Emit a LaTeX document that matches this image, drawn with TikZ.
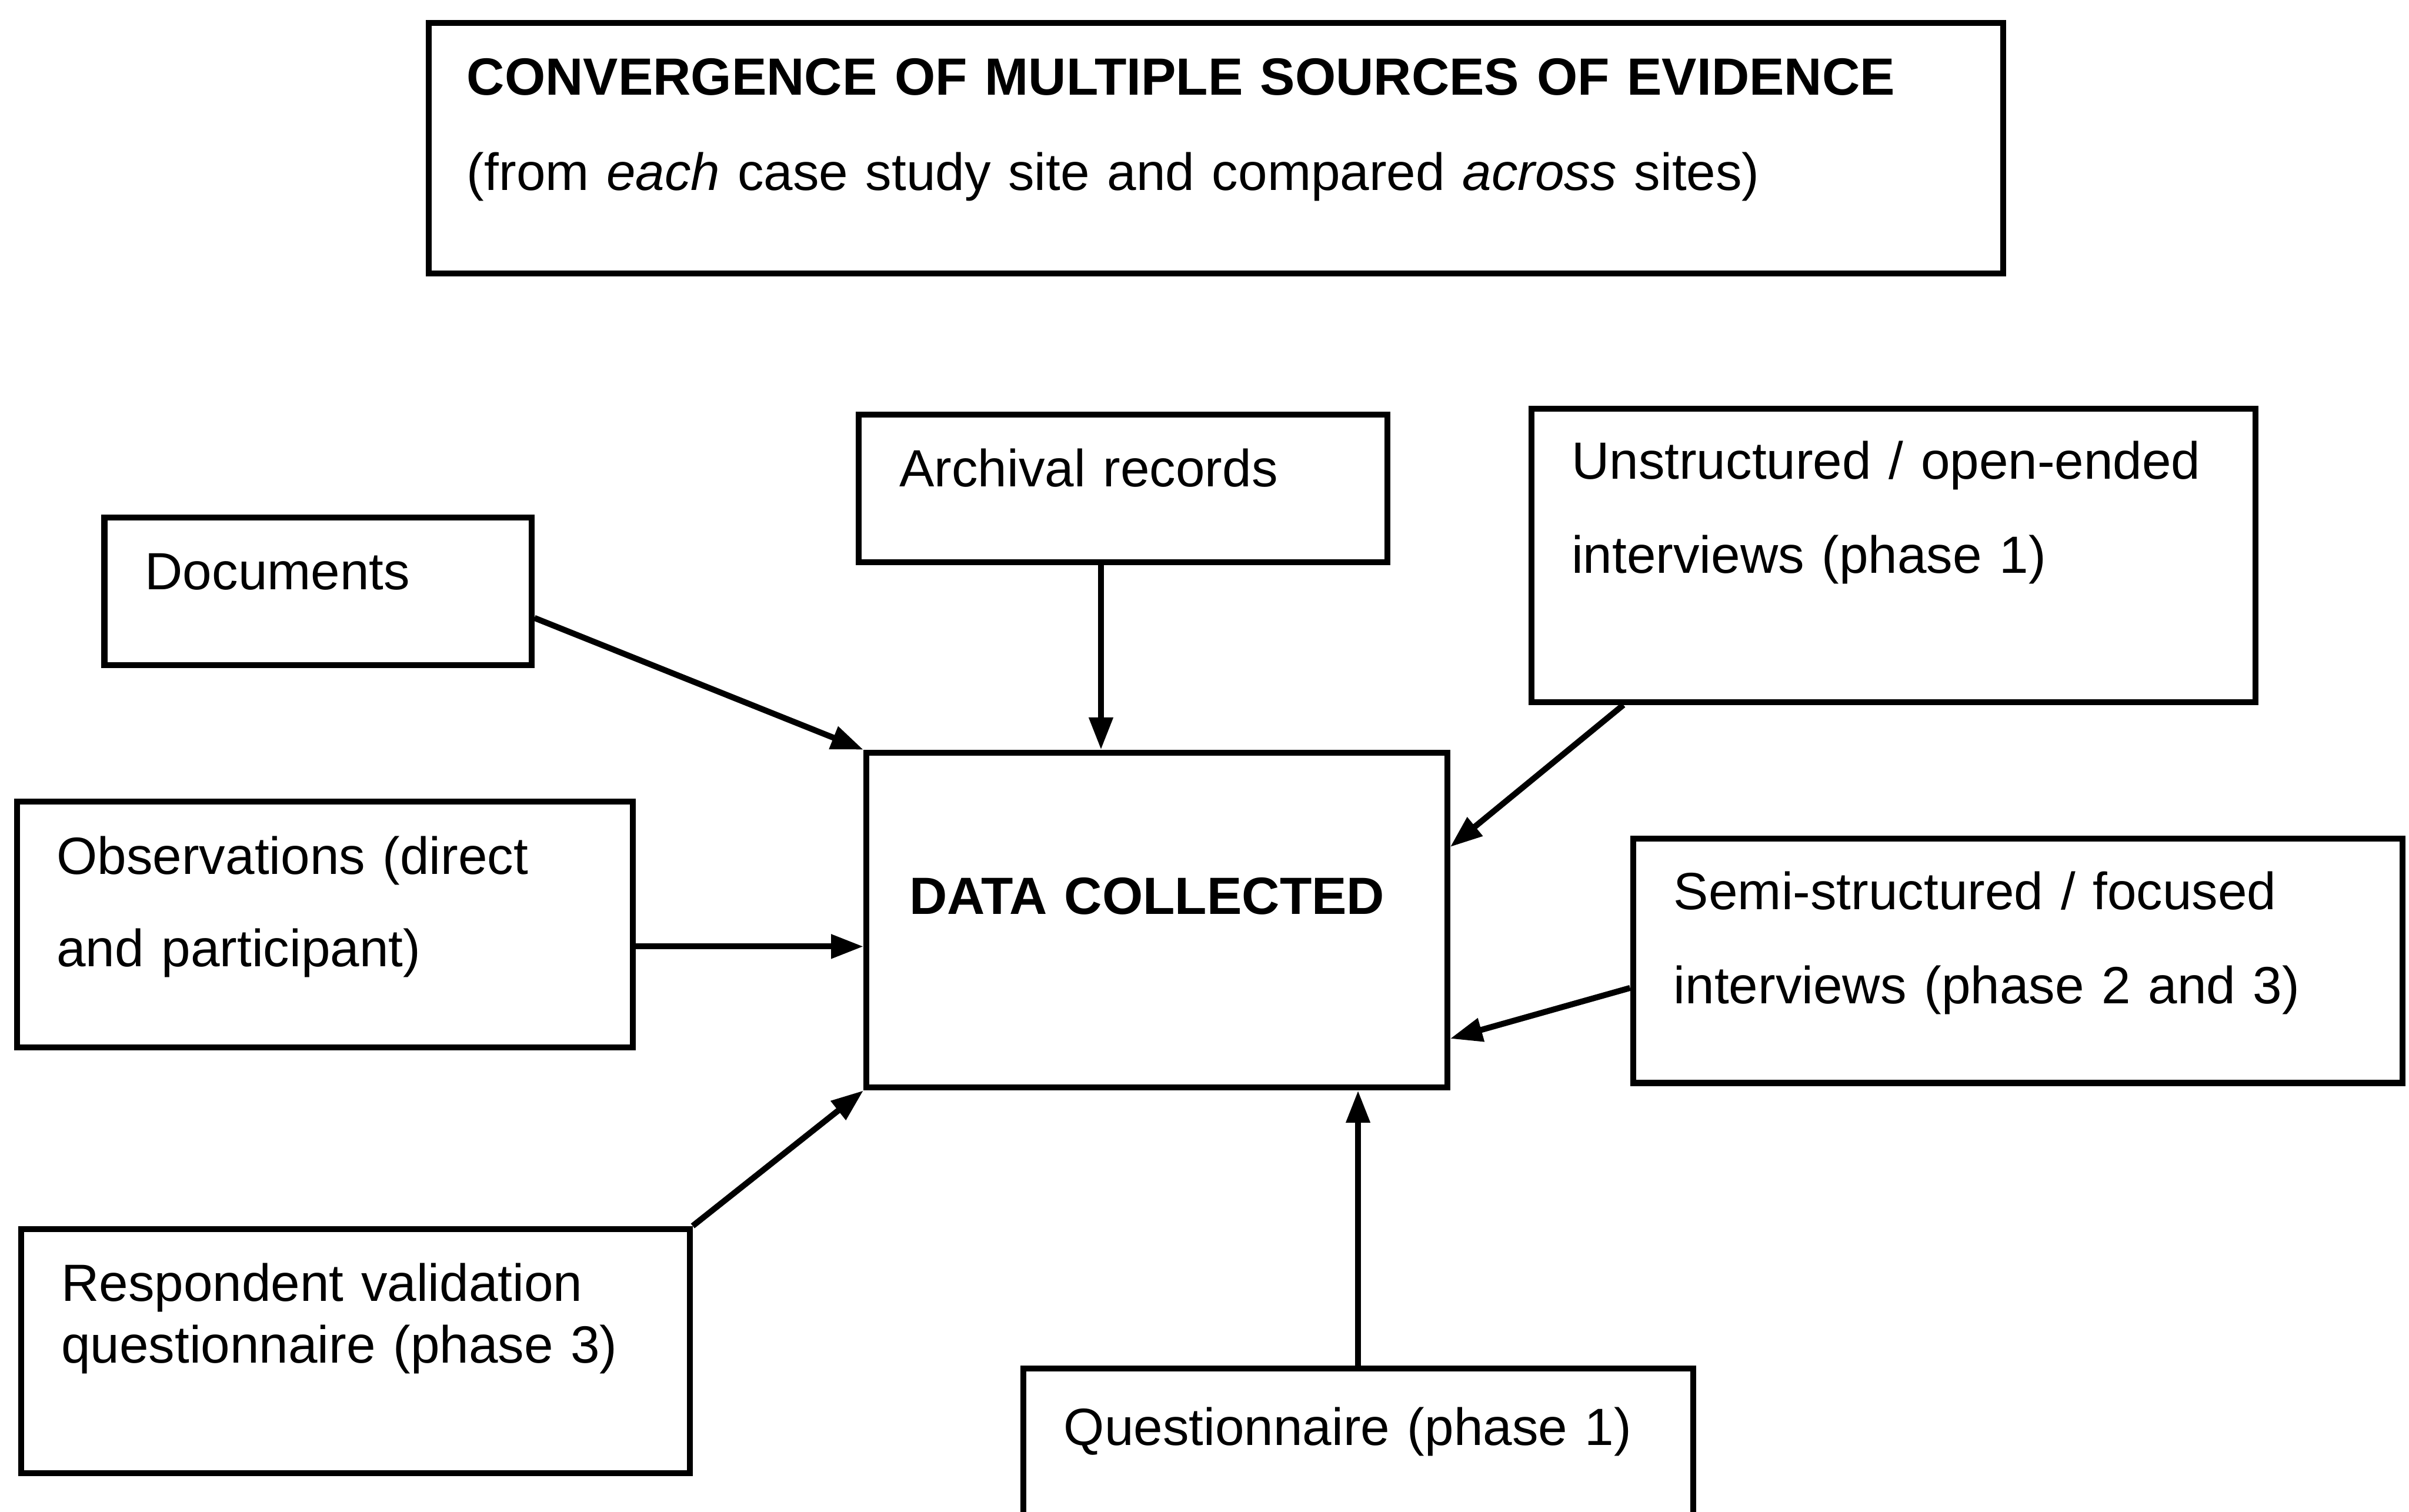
\documentclass[tikz,border=0pt]{standalone}
\usepackage{fontspec}
\setmainfont{Liberation Sans}
\usepackage{tikz}
\usetikzlibrary{arrows.meta}
\definecolor{inkblack}{HTML}{000000}
\tikzset{
  source/.style={
    rectangle,
    draw=inkblack,
    line width=1.1pt,
    anchor=north west,
    align=left,
    inner ysep=0pt,
    inner xsep=0.265cm,
    font=\fontsize{9.7}{17.4}\selectfont
  },
  line/.style={-{Triangle[length=2.1mm,width=1.5mm]}, line width=1.1pt, draw=inkblack}
}

\begin{document}
\begin{tikzpicture}
  \clip (0,0) rectangle (15.68,9.84);

  % heading
  \node[source, inner xsep=0.25cm, text width=9.75cm, text height=0.47cm, text depth=1.16cm,
        font=\fontsize{9.7}{17.6}\selectfont] (heading) at (2.77,9.71)
    {\textbf{CONVERGENCE OF MULTIPLE SOURCES OF EVIDENCE}\\(from \textit{each} case study site and compared \textit{across} sites)};

  % sources of evidence
  \node[source, text width=2.91cm, text height=0.47cm, text depth=0.49cm] (archival) at (5.57,7.16) {Archival records};
  \node[source, inner xsep=0.26cm, text width=4.19cm, text height=0.46cm, text depth=1.45cm] (unstructured) at (9.95,7.20)
    {Unstructured / open-ended\\interviews (phase 1)};
  \node[source, text width=2.25cm, text height=0.47cm, text depth=0.49cm] (documents) at (0.66,6.49) {Documents};
  \node[source, inner xsep=0.26cm, text width=3.49cm, text height=0.47cm, text depth=1.13cm,
        font=\fontsize{9.7}{17.1}\selectfont] (observations) at (0.09,4.64)
    {Observations (direct\\and participant)};
  \node[source, text width=4.48cm, text height=0.46cm, text depth=1.13cm] (semi) at (10.61,4.40)
    {Semi-structured / focused\\interviews (phase 2 and 3)};
  \node[source, inner xsep=0.26cm, text width=3.83cm, text height=0.47cm, text depth=1.12cm,
        font=\fontsize{9.7}{11.4}\selectfont] (respondent) at (0.12,1.86)
    {Respondent validation\\questionnaire (phase 3)};
  \node[source, text width=3.83cm, text height=0.50cm, text depth=0.71cm] (questionnaire) at (6.64,0.95)
    {Questionnaire (phase 1)};

  % centre box
  \node[source, inner xsep=0.28cm, text width=3.22cm, text height=1.05cm, text depth=1.13cm] (data) at (5.62,4.96)
    {\textbf{DATA COLLECTED}};

  \draw[line] (documents.-7) -- (data.north west);
  \draw[line] (archival.254) -- (archival.254 |- data.north);
  \draw[line] (unstructured.209) -- (data.14.5);
  \draw[line] (observations.-4) -- (observations.-4 -| data.west);
  \draw[line] (semi.184.4) -- (data.-22);
  \draw[line] (respondent.north east) -- (data.south west);
  \draw[line] (questionnaire.north) -- (questionnaire.north |- data.south);
\end{tikzpicture}
\end{document}
